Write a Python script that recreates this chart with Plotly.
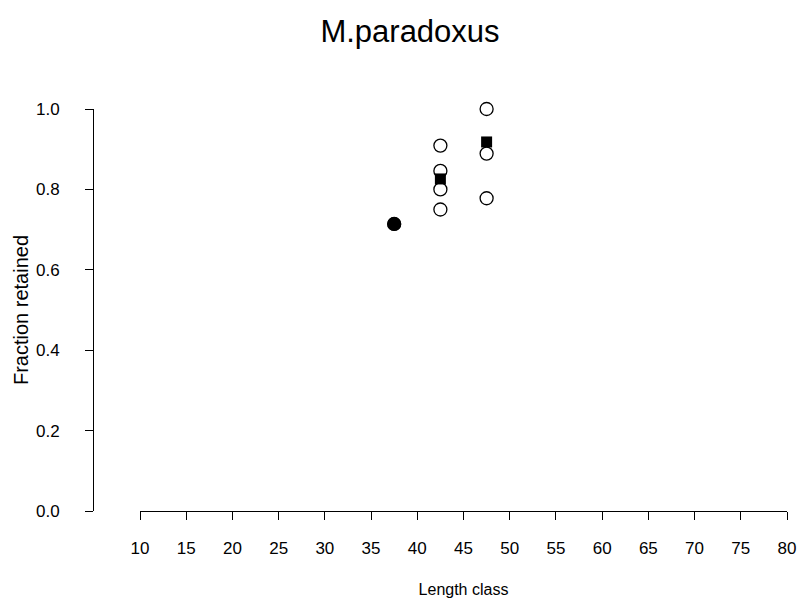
import plotly.graph_objects as go

obs_x = [37.5, 42.5, 42.5, 42.5, 42.5, 47.5, 47.5, 47.5]
obs_y = [0.714, 0.909, 0.846, 0.800, 0.750, 1.000, 0.889, 0.778]
mean_x = [37.5, 42.5, 47.5]
mean_y = [0.714, 0.826, 0.918]
mean_symbols = ["circle", "square", "square"]
x_ticks = [10, 15, 20, 25, 30, 35, 40, 45, 50, 55, 60, 65, 70, 75, 80]
y_ticks = [0.0, 0.2, 0.4, 0.6, 0.8, 1.0]
y_labels = ["0.0", "0.2", "0.4", "0.6", "0.8", "1.0"]

FONT = "Liberation Sans, Arial, sans-serif"

fig = go.Figure()
fig.add_trace(go.Scatter(
    x=obs_x, y=obs_y, mode="markers", cliponaxis=False,
    marker=dict(symbol="circle-open", size=13, color="black", opacity=1,
                line=dict(width=1.3, color="black")),
    showlegend=False))
fig.add_trace(go.Scatter(
    x=mean_x, y=mean_y, mode="markers", cliponaxis=False,
    marker=dict(symbol=mean_symbols, size=[14, 11, 11], color="black", opacity=1,
                line=dict(width=0, color="black")),
    showlegend=False))

W, H = 797, 604
L, R, T, B = 93, 10, 109, 93
pw = W - L - R

fig.update_layout(
    width=W, height=H,
    margin=dict(l=L, r=R, t=T, b=B, autoexpand=False),
    plot_bgcolor="white", paper_bgcolor="white",
    font=dict(family=FONT, color="black", size=16),
    title=dict(text="M.paradoxus", x=410 / W, xanchor="center", y=1 - 31 / H, yanchor="middle",
               font=dict(size=31, family=FONT, color="black")),
    xaxis=dict(
        domain=[(140 - L) / pw, 1], range=[10, 80], automargin=False,
        tickmode="array", tickvals=x_ticks, ticktext=[str(v) for v in x_ticks],
        showline=True, linecolor="black", linewidth=1,
        ticks="outside", ticklen=8, tickcolor="black", tickwidth=1,
        showgrid=False, zeroline=False, ticklabelstandoff=14,
        ticklabeloverflow="allow",
        tickfont=dict(size=17),
        title=dict(text="Length class", font=dict(size=16), standoff=26),
    ),
    yaxis=dict(
        anchor="free", position=0, range=[0, 1], automargin=False,
        tickmode="array", tickvals=y_ticks, ticktext=y_labels,
        showline=True, linecolor="black", linewidth=1,
        ticks="outside", ticklen=8, tickcolor="black", tickwidth=1,
        showgrid=False, zeroline=False, ticklabelstandoff=22,
        ticklabeloverflow="allow",
        tickfont=dict(size=17),
        title=dict(text="Fraction retained", font=dict(size=20), standoff=0),
    ),
)

fig.write_html("out.html")
